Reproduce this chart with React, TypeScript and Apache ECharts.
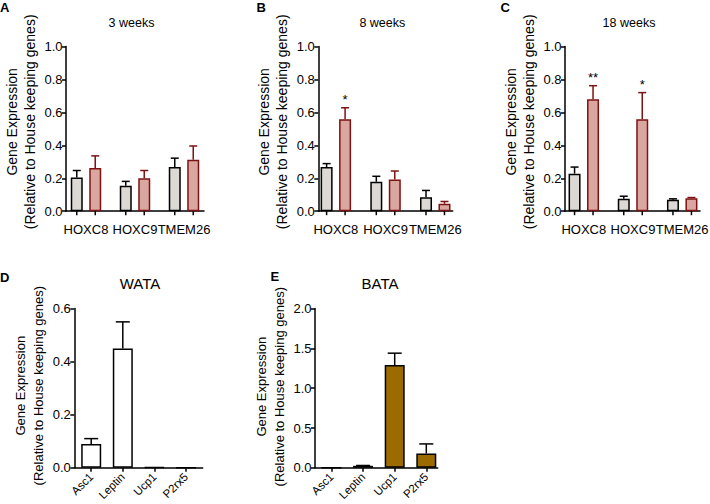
import React, { useEffect, useRef } from 'react';
import * as echarts from 'echarts';

// ---------- data ----------
const geneCats = ['HOXC8', 'HOXC9', 'TMEM26'];

const wk3Ctrl = [0.205, 0.155, 0.268];
const wk3CtrlErr = [0.042, 0.026, 0.054];
const wk3Trt = [0.262, 0.2, 0.312];
const wk3TrtErr = [0.074, 0.047, 0.084];

const wk8Ctrl = [0.268, 0.179, 0.085];
const wk8CtrlErr = [0.021, 0.033, 0.041];
const wk8Trt = [0.559, 0.193, 0.045];
const wk8TrtErr = [0.069, 0.051, 0.014];
const wk8Stars = ['*', '', ''];

const wk18Ctrl = [0.228, 0.075, 0.069];
const wk18CtrlErr = [0.04, 0.016, 0.006];
const wk18Trt = [0.679, 0.559, 0.079];
const wk18TrtErr = [0.083, 0.161, 0.004];
const wk18Stars = ['**', '*', ''];

const markerCats = ['Asc1', 'Leptin', 'Ucp1', 'P2rx5'];
const wataVals = [0.09, 0.45, 0.002, 0];
const wataErr = [0.02, 0.1, 0, 0];
const bataVals = [0, 0.025, 1.29, 0.18];
const bataErr = [0, 0.004, 0.15, 0.12];

// ---------- styles ----------
const FONT = "'Liberation Sans', Arial, Helvetica, sans-serif";
const GREY = '#dcd8d4';
const RED_FILL = '#d9a7a0';
const RED_LINE = '#7e1212';
const BROWN = '#9b6b00';
const yName = 'Gene Expression\n(Relative to House keeping genes)';

type Grp = { values: number[]; errors: number[]; fill: string; stroke: string; stars?: string[] };
type Panel = {
  letter: string;
  letterPos: [number, number];
  title: string;
  titlePos: [number, number];
  titleSize: number;
  cats: string[];
  groups: Grp[];
  yMax: number;
  yInterval: number;
  frame: { left: number; top: number; width: number; height: number };
  band: { left: number; width: number };
  barWidth: number;
  barGapPct: number;
  cap: number;
  tickPerBar: boolean;
  rotate: number;
  xFont: number;
  xMargin: number;
  nameFont: number;
  nameLH: number;
  namePad: number;
};

const panels: Panel[] = [
  {
    letter: 'A', letterPos: [0, 1], title: '3 weeks', titlePos: [131.5, 22.5], titleSize: 12.5,
    cats: geneCats,
    groups: [
      { values: wk3Ctrl, errors: wk3CtrlErr, fill: GREY, stroke: '#000' },
      { values: wk3Trt, errors: wk3TrtErr, fill: RED_FILL, stroke: RED_LINE },
    ],
    yMax: 1, yInterval: 0.2,
    frame: { left: 66, top: 46.5, width: 138, height: 164.7 },
    band: { left: 61.5, width: 147 },
    barWidth: 12, barGapPct: 54, cap: 8, tickPerBar: true, rotate: 0, xFont: 13, xMargin: 12,
    nameFont: 14, nameLH: 18, namePad: 14,
  },
  {
    letter: 'B', letterPos: [256.5, 1], title: '8 weeks', titlePos: [382.3, 22.5], titleSize: 12.5,
    cats: geneCats,
    groups: [
      { values: wk8Ctrl, errors: wk8CtrlErr, fill: GREY, stroke: '#000' },
      { values: wk8Trt, errors: wk8TrtErr, fill: RED_FILL, stroke: RED_LINE, stars: wk8Stars },
    ],
    yMax: 1, yInterval: 0.2,
    frame: { left: 318.3, top: 46.5, width: 134.4, height: 164.7 },
    band: { left: 311, width: 149.1 },
    barWidth: 12, barGapPct: 54, cap: 8, tickPerBar: true, rotate: 0, xFont: 13, xMargin: 12,
    nameFont: 14, nameLH: 18, namePad: 14,
  },
  {
    letter: 'C', letterPos: [500.5, 1], title: '18 weeks', titlePos: [629, 23], titleSize: 12.5,
    cats: geneCats,
    groups: [
      { values: wk18Ctrl, errors: wk18CtrlErr, fill: GREY, stroke: '#000' },
      { values: wk18Trt, errors: wk18TrtErr, fill: RED_FILL, stroke: RED_LINE, stars: wk18Stars },
    ],
    yMax: 1, yInterval: 0.2,
    frame: { left: 565, top: 46.5, width: 135, height: 164.7 },
    band: { left: 559.2, width: 147.6 },
    barWidth: 12, barGapPct: 54, cap: 8, tickPerBar: true, rotate: 0, xFont: 13, xMargin: 12,
    nameFont: 14, nameLH: 18, namePad: 14,
  },
  {
    letter: 'D', letterPos: [0, 271], title: 'WATA', titlePos: [140, 283], titleSize: 15,
    cats: markerCats,
    groups: [{ values: wataVals, errors: wataErr, fill: '#ffffff', stroke: '#000' }],
    yMax: 0.6, yInterval: 0.2,
    frame: { left: 74.3, top: 308.6, width: 128.4, height: 159.2 },
    band: { left: 75.4, width: 126.4 },
    barWidth: 20, barGapPct: 30, cap: 14, tickPerBar: false, rotate: 45, xFont: 11.5, xMargin: 7,
    nameFont: 13, nameLH: 18, namePad: 5,
  },
  {
    letter: 'E', letterPos: [270.5, 269.5], title: 'BATA', titlePos: [380, 283.3], titleSize: 15,
    cats: markerCats,
    groups: [{ values: bataVals, errors: bataErr, fill: BROWN, stroke: '#000' }],
    yMax: 2, yInterval: 0.5,
    frame: { left: 315, top: 308.6, width: 122.7, height: 159.2 },
    band: { left: 315.7, width: 126.4 },
    barWidth: 20, barGapPct: 30, cap: 14, tickPerBar: false, rotate: 45, xFont: 11.5, xMargin: 7,
    nameFont: 13, nameLH: 18, namePad: 3,
  },
];

function buildOption() {
  const grid: any[] = [];
  const xAxis: any[] = [];
  const yAxis: any[] = [];
  const series: any[] = [];
  const graphic: any[] = [];
  const axisLineStyle = { color: '#000', width: 1.5 };

  panels.forEach((p) => {
    const gF = grid.length;
    grid.push({
      left: p.frame.left, top: p.frame.top, width: p.frame.width, height: p.frame.height,
      containLabel: false, outerBoundsMode: 'none',
    });
    const gB = grid.length;
    grid.push({
      left: p.band.left, top: p.frame.top, width: p.band.width, height: p.frame.height,
      containLabel: false, outerBoundsMode: 'none',
    });

    xAxis.push({
      type: 'value', gridIndex: gF, min: 0, max: 1,
      axisLine: { show: true, onZero: false, lineStyle: axisLineStyle },
      axisTick: { show: false }, axisLabel: { show: false }, splitLine: { show: false },
    });
    const xB = xAxis.length;
    xAxis.push({
      type: 'category', gridIndex: gB, data: p.cats,
      axisLine: { show: false },
      axisTick: { show: !p.tickPerBar, alignWithLabel: true, length: 4, lineStyle: axisLineStyle },
      axisLabel: {
        interval: 0, color: '#000', fontSize: p.xFont, fontFamily: FONT,
        margin: p.xMargin, rotate: p.rotate,
      },
      splitLine: { show: false },
    });

    yAxis.push({
      type: 'value', gridIndex: gF, min: 0, max: p.yMax, interval: p.yInterval,
      name: yName, nameLocation: 'middle', nameGap: 27,
      nameTextStyle: {
        color: '#000', fontSize: p.nameFont, lineHeight: p.nameLH, fontFamily: FONT,
        padding: [0, 0, 0, p.namePad],
      },
      axisLine: { show: true, onZero: false, lineStyle: axisLineStyle },
      axisTick: { show: true, length: 4, lineStyle: axisLineStyle },
      axisLabel: {
        color: '#000', fontSize: 13, fontFamily: FONT, margin: 3.5,
        formatter: (v: number) => v.toFixed(1),
      },
      splitLine: { show: false },
    });
    const yB = yAxis.length;
    yAxis.push({ type: 'value', gridIndex: gB, min: 0, max: p.yMax, interval: p.yInterval, show: false });

    const n = p.groups.length;
    const gapPx = (p.barWidth * p.barGapPct) / 100;
    const total = n * p.barWidth + (n - 1) * gapPx;

    p.groups.forEach((g, gi) => {
      series.push({
        type: 'bar', xAxisIndex: xB, yAxisIndex: yB, data: g.values,
        barWidth: p.barWidth, barGap: p.barGapPct + '%', silent: true, z: 3,
        itemStyle: { color: g.fill, borderColor: g.stroke, borderWidth: 1.5 },
      });
      const offset = -total / 2 + p.barWidth / 2 + gi * (p.barWidth + gapPx);
      const stars = g.stars;
      const cap = p.cap;
      const tickPerBar = p.tickPerBar;
      series.push({
        type: 'custom', xAxisIndex: xB, yAxisIndex: yB, silent: true, z: 5, clip: false,
        encode: { x: 0, y: 1 },
        data: g.values.map((v, k) => [k, v, g.errors[k]]),
        renderItem: (params: any, api: any) => {
          const c = api.value(0);
          const v = api.value(1);
          const e = api.value(2);
          const top = api.coord([c, v]);
          const end = api.coord([c, v + e]);
          const base = api.coord([c, 0]);
          const cx = top[0] + offset;
          const children: any[] = [];
          const ls = { stroke: g.stroke, lineWidth: 1.5 };
          if (e > 0) {
            children.push({ type: 'line', shape: { x1: cx, y1: top[1], x2: cx, y2: end[1] }, style: ls });
            children.push({ type: 'line', shape: { x1: cx - cap / 2, y1: end[1], x2: cx + cap / 2, y2: end[1] }, style: ls });
          }
          if (tickPerBar) {
            children.push({
              type: 'line', shape: { x1: cx, y1: base[1], x2: cx, y2: base[1] + 4 },
              style: { stroke: '#000', lineWidth: 1.5 },
            });
          }
          const s = stars ? stars[params.dataIndex] : '';
          if (s) {
            children.push({
              type: 'text', x: cx, y: end[1] - 2,
              style: { text: s, fill: '#000', font: `13px ${FONT}`, align: 'center', verticalAlign: 'bottom' },
            });
          }
          return { type: 'group', children };
        },
      });
    });

    graphic.push({
      type: 'text', x: p.letterPos[0], y: p.letterPos[1],
      style: { text: p.letter, fill: '#000', font: `bold 13px ${FONT}`, align: 'left', verticalAlign: 'top' },
    });
    graphic.push({
      type: 'text', x: p.titlePos[0], y: p.titlePos[1],
      style: { text: p.title, fill: '#000', font: `${p.titleSize}px ${FONT}`, align: 'center', verticalAlign: 'middle' },
    });
  });

  return {
    animation: false,
    backgroundColor: '#ffffff',
    textStyle: { fontFamily: FONT },
    grid, xAxis, yAxis, series, graphic,
  };
}

export default function App() {
  const ref = useRef<HTMLDivElement>(null);
  useEffect(() => {
    if (!ref.current) return;
    const chart = echarts.init(ref.current, undefined, { renderer: 'svg' });
    chart.setOption(buildOption() as any);
    return () => chart.dispose();
  }, []);
  return (
    <div
      ref={ref}
      style={{ position: 'absolute', left: 0, top: 0, width: 710, height: 504, background: '#fff' }}
    />
  );
}
